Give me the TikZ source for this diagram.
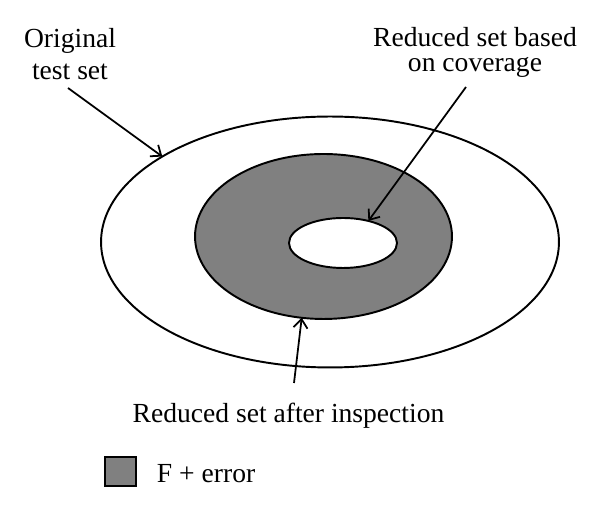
\documentclass[tikz,border=0pt]{standalone}
\usepackage{fontspec}
\setmainfont{Liberation Serif}
\usetikzlibrary{shapes.geometric,arrows.meta}
\definecolor{errgray}{RGB}{128,128,128}

\begin{document}
\begin{tikzpicture}[
  x=0.02cm, y=-0.02cm, line width=1.1pt,
  region/.style={ellipse,draw,inner sep=0pt,outer sep=0pt},
  lbl/.style={font=\fontsize{15.7}{14.5}\selectfont,align=center,inner sep=0pt},
  pointer/.style={-{Straight Barb[length=5pt,width=8pt]},line width=1pt}
]
  \useasboundingbox (0,0) rectangle (600,509);
  % the three sets
  \node[region,fill=white,minimum width=9.16cm,minimum height=5.02cm] (outer) at (330,242) {};
  \node[region,fill=errgray,minimum width=5.14cm,minimum height=3.30cm] (ring) at (323.5,236.5) {};
  \node[region,fill=white,minimum width=2.16cm,minimum height=1.00cm] (inner) at (343,243) {};
  % labels
  \node[lbl,anchor=north] (origlbl) at (70,27) {Original\\[4pt]test set};
  \node[lbl,anchor=north] (covlbl) at (475,26) {Reduced set based\\on coverage};
  \node[lbl,anchor=base] (insplbl) at (288.5,423) {Reduced set after inspection};
  \coordinate (origtail) at (68,88);
  \coordinate (covtail) at (466,87);
  \coordinate (insptail) at (294,383);
  \draw[pointer] (origtail) -- (outer.153);
  \draw[pointer] (covtail) -- (inner.41);
  \draw[pointer] (insptail) -- (ring.255);
  % legend
  \node[draw,fill=errgray,inner sep=0pt,minimum width=0.62cm,minimum height=0.58cm] (key) at (120.5,471.5) {};
  \node[lbl,anchor=base west] (keylbl) at (156,483) {F + error};
\end{tikzpicture}
\end{document}
